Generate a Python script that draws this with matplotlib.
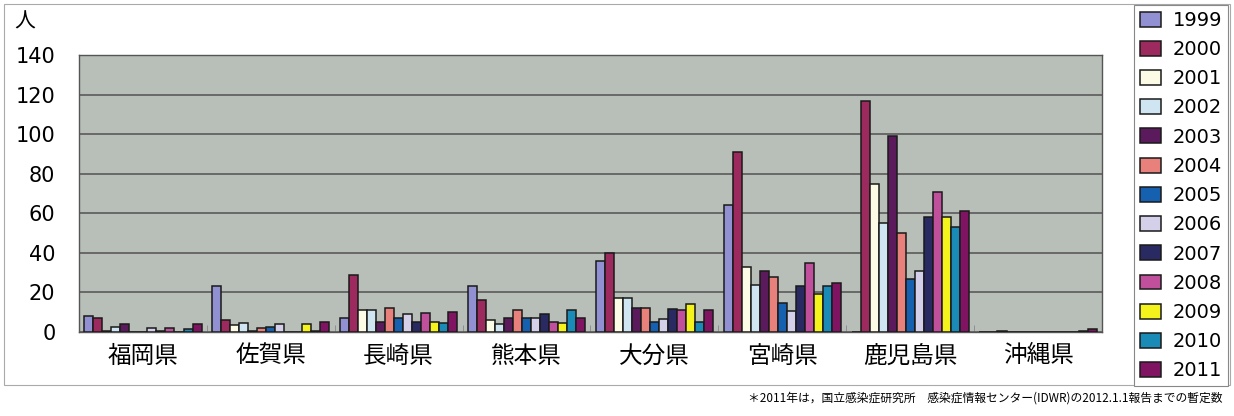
import matplotlib
matplotlib.use("Agg")
import matplotlib.pyplot as plt
from matplotlib.patches import Rectangle
import numpy as np

plt.rcParams['font.family'] = ['Noto Sans CJK JP', 'DejaVu Sans']

prefectures = ["福岡県", "佐賀県", "長崎県", "熊本県", "大分県", "宮崎県", "鹿児島県", "沖縄県"]
years = ["1999", "2000", "2001", "2002", "2003", "2004", "2005",
         "2006", "2007", "2008", "2009", "2010", "2011"]

# one list per year, values for each prefecture (people)
v1999 = [8, 23, 7, 23, 36, 64, 0, 0]
v2000 = [7, 6, 29, 16, 40, 91, 117, 0]
v2001 = [0.5, 3.5, 11, 6, 17, 33, 75, 0.3]
v2002 = [2.5, 4.5, 11, 4, 17, 24, 55, 0]
v2003 = [4, 0.5, 5, 7, 12, 31, 99, 0]
v2004 = [0, 2, 12, 11, 12, 28, 50, 0]
v2005 = [0, 2.5, 7, 7, 5, 14.5, 27, 0]
v2006 = [2, 4, 9, 7, 6.5, 10.5, 31, 0]
v2007 = [0.5, 0, 5, 9, 11.5, 23, 58, 0]
v2008 = [2, 0, 9.5, 5, 11, 35, 71, 0]
v2009 = [0, 4, 5, 4.5, 14, 19, 58, 0]
v2010 = [1.5, 0.5, 4.5, 11, 5, 23, 53, 0.5]
v2011 = [4, 5, 10, 7, 11, 25, 61, 1.5]
values = [v1999, v2000, v2001, v2002, v2003, v2004, v2005,
          v2006, v2007, v2008, v2009, v2010, v2011]

colors = ['#9090d2', '#9c2a5e', '#fbfbe6', '#cfe6f2', '#5a1a5c', '#e8807c', '#1660b0',
          '#d4d0ea', '#2a2a62', '#c0509c', '#f4f41c', '#1a8ab6', '#801462']

note = "＊2011年は，国立感染症研究所　感染症情報センター(IDWR)の2012.1.1報告までの暫定数"

fig = plt.figure(figsize=(12.34, 4.16), dpi=100)
ax = fig.add_axes([79 / 1234, 1 - 332 / 416, (1102 - 79) / 1234, (332 - 55) / 416])
ax.set_facecolor('#b8beb8')

x = np.arange(len(prefectures))
n = len(years)
w = 0.0705
for k in range(n):
    ax.bar(x + (k - (n - 1) / 2) * w, values[k], width=w, color=colors[k],
           edgecolor='#1a1a1a', linewidth=1.1, label=years[k], zorder=3)

ax.set_xlim(-0.5, len(prefectures) - 0.5)
ax.set_ylim(0, 140)
ax.set_yticks(np.arange(0, 141, 20))
ax.yaxis.grid(True, color='#5a5a5a', linewidth=1.2, zorder=1)
ax.tick_params(axis='y', length=0, pad=17, labelsize=15)
for lab in ax.get_yticklabels():
    lab.set_family('DejaVu Sans')
ax.set_xticks(x)
ax.set_xticklabels(prefectures, fontsize=17)
ax.tick_params(axis='x', length=0, pad=9)
ax.set_xticks(np.arange(-0.5, len(prefectures)), minor=True)
ax.tick_params(axis='x', which='minor', direction='in', length=5, color='#888888')
for s in ax.spines.values():
    s.set_color('#555555')
    s.set_linewidth(1.0)

fig.text(25 / 1234, 1 - 22 / 416, "人", fontsize=15, ha='center', va='center')

fig.patches.append(Rectangle((4 / 1234, 1 - 385 / 416), 1226 / 1234, 381 / 416,
                             transform=fig.transFigure, fill=False,
                             edgecolor='#aaaaaa', linewidth=0.8))

leg = fig.legend(loc='upper right', bbox_to_anchor=(1228 / 1234, 1 - 5 / 416),
                 frameon=True, fancybox=False, edgecolor='#888888',
                 handlelength=1.1, handleheight=0.8, handletextpad=0.6,
                 labelspacing=0.525, borderpad=0.3, borderaxespad=0,
                 prop={'family': 'DejaVu Sans', 'size': 14})
leg.get_frame().set_linewidth(0.8)
leg.get_frame().set_facecolor('white')
leg.get_frame().set_alpha(1)

fig.text(1222 / 1234, 1 - 398 / 416, note, fontsize=8.5, ha='right', va='center')

fig.savefig("out.png", dpi=100)
